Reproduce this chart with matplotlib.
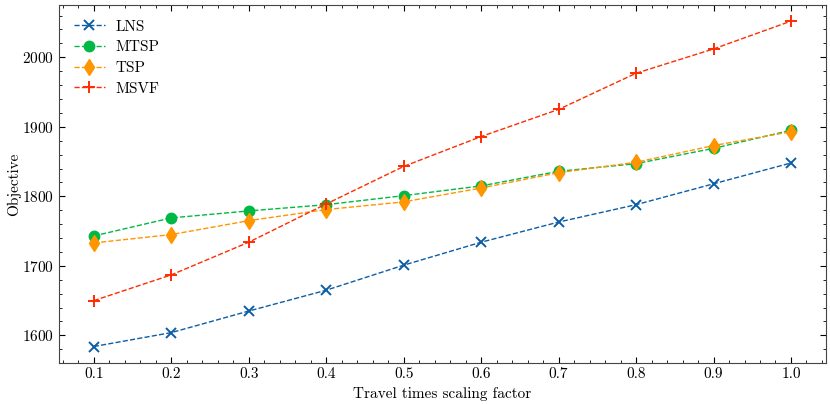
import matplotlib
matplotlib.use('Agg')
import matplotlib.pyplot as plt
from matplotlib.ticker import AutoMinorLocator

# scaling factors on the x axis
factors = [0.1, 0.2, 0.3, 0.4, 0.5, 0.6, 0.7, 0.8, 0.9, 1.0]

# objective values
lns = [1584, 1604, 1635, 1665, 1701, 1734, 1763, 1788, 1818, 1848]
mtsp = [1743, 1769, 1779, 1788, 1801, 1815, 1836, 1847, 1869, 1895]
tsp = [1733, 1745, 1765, 1781, 1792, 1812, 1834, 1849, 1873, 1893]
msvf = [1650, 1687, 1734, 1789, 1843, 1886, 1925, 1977, 2012, 2052]

plt.rcParams['font.family'] = ['cmr10', 'DejaVu Serif']
plt.rcParams['mathtext.fontset'] = 'cm'
plt.rcParams['axes.formatter.use_mathtext'] = True
plt.rcParams['font.size'] = 11

fig, ax = plt.subplots(figsize=(8.3, 4.04), dpi=100)

ax.plot(factors, lns, '--', color='#0C5DA5', marker='x', ms=7, mew=1.4, lw=1, label='LNS')
ax.plot(factors, mtsp, '--', color='#00B945', marker='o', ms=7.5, lw=1, label='MTSP')
ax.plot(factors, tsp, '--', color='#FF9500', marker='d', ms=8.5, lw=1, label='TSP')
ax.plot(factors, msvf, '--', color='#FF2C00', marker='+', ms=8, mew=1.4, lw=1, label='MSVF')

ax.set_xticks(factors)
ax.set_xticklabels(['%.1f' % f for f in factors])
ax.set_xlabel('Travel times scaling factor')
ax.set_ylabel('Objective', labelpad=1)

ax.xaxis.set_minor_locator(AutoMinorLocator(5))
ax.yaxis.set_minor_locator(AutoMinorLocator(5))
ax.tick_params(which='both', direction='in', top=True, right=True)
ax.tick_params(which='major', length=4)
ax.tick_params(which='minor', length=2)
for s in ax.spines.values():
    s.set_color('#444444')

ax.legend(loc='upper left', frameon=False, labelspacing=0.45, handletextpad=0.7,
          borderaxespad=0.6)

fig.subplots_adjust(left=0.071, right=0.995, top=0.988, bottom=0.102)
fig.savefig('out.png', dpi=100)
